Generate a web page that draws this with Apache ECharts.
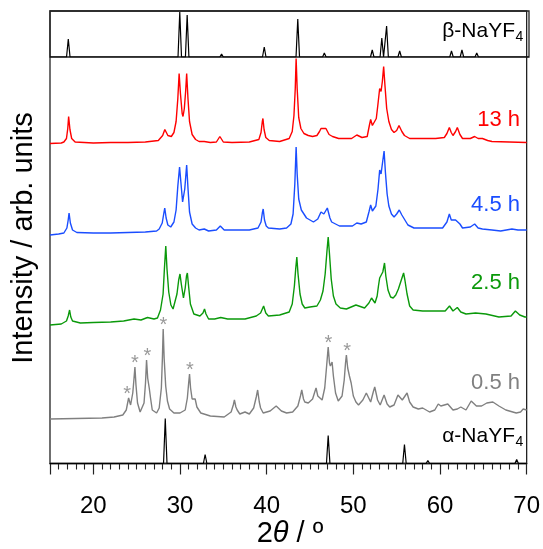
<!DOCTYPE html>
<html><head><meta charset="utf-8">
<script src="https://cdn.jsdelivr.net/npm/echarts@6/dist/echarts.min.js"></script>
<style>html,body{margin:0;padding:0;background:#fff}#c{width:543px;height:549px}</style>
</head><body><div id="c"></div>
<script>
// ---- data (2θ in degrees, intensity in arbitrary units above each trace's baseline) ----
const xMin = 15, xMax = 70;
const betaPeaks = [[17.1,18],[25.2,1],[29.9,45],[30.75,42],[34.7,3],[39.6,10],[43.45,38],[46.5,4],[52.0,7],[53.1,19],[53.65,31],[55.15,6],[59.9,1],[61.1,6],[62.3,7],[64.0,4],[65.1,2],[68.3,1]];
const alphaPeaks = [[28.3,45],[32.9,9],[47.1,28],[55.9,19],[58.6,3],[68.85,4]];

const red13h = [[15,0],[16.3,0.5],[16.6,1.5],[16.9,5],[17.05,15],[17.15,27],[17.3,14],[17.5,5],[17.9,1.5],[20,0.5],[22,1],[24,1],[26,1.5],[27.5,3],[28.0,8],[28.25,14],[28.6,8],[29.0,7],[29.3,11],[29.55,22],[29.75,45],[29.9,70],[30.05,50],[30.25,30],[30.35,27],[30.5,35],[30.65,52],[30.77,70],[30.92,45],[31.1,22],[31.4,9],[31.8,4],[32.2,2],[32.8,2],[33.5,1],[34.2,1.5],[34.6,7],[35.0,1.5],[36,1],[38,1.5],[39.1,4],[39.35,11],[39.5,22],[39.57,25],[39.7,14],[39.9,6],[40.3,3],[41.5,2],[42.6,5],[42.95,12],[43.15,28],[43.3,55],[43.4,85],[43.52,55],[43.7,26],[43.95,15],[44.3,10],[44.8,8],[45.3,7],[45.8,8],[46.1,12],[46.27,15],[46.5,13],[46.84,15],[47.2,9],[47.6,7],[48.3,5],[49.8,5],[50.4,8.5],[51.0,6],[51.6,7],[51.85,18],[52.0,24],[52.2,18],[52.4,16],[52.65,25],[52.85,40],[53.04,55],[53.2,52],[53.35,62],[53.5,77],[53.65,58],[53.85,35],[54.1,22],[54.4,14],[54.7,11],[55.0,13],[55.27,18],[55.6,12],[55.9,8],[56.5,5],[58,5],[59.5,5],[60.5,6],[60.8,10],[61.08,16],[61.3,11],[61.5,8],[61.8,12],[62.0,16],[62.3,9],[62.6,5],[63.5,5],[64.0,7],[64.4,5],[64.9,5],[65.5,3],[66,2],[68,1.5],[70,1]];

const blue4h = [[15,-1],[16,0],[16.6,1],[16.95,6],[17.1,14],[17.2,21],[17.35,11],[17.6,4],[18.1,1.5],[20,1],[22,1],[24,1.5],[26,2],[27.3,3],[27.6,5],[27.95,11],[28.12,20],[28.24,26],[28.4,16],[28.6,9],[28.93,7],[29.3,12],[29.55,24],[29.75,48],[29.95,67],[30.1,52],[30.3,32],[30.4,30],[30.55,45],[30.65,56],[30.77,69],[30.92,46],[31.1,22],[31.4,10],[31.8,6],[32.2,4],[32.8,5],[33.3,3],[34.2,4],[34.65,8],[35.1,4],[36,4],[38,4],[39.0,6],[39.35,12],[39.5,21],[39.6,25],[39.75,14],[39.95,8],[40.2,6],[41.5,5],[42.3,6],[42.8,10],[43.05,20],[43.25,50],[43.4,87],[43.52,60],[43.7,35],[44.0,24],[44.2,22],[44.6,16],[45.0,14],[45.4,12],[45.9,15],[46.27,22],[46.6,20],[47.0,26],[47.3,16],[47.5,12],[48.4,8],[49.9,8],[50.4,11],[50.9,10],[51.5,12],[51.8,22],[52.0,29],[52.2,23],[52.35,21],[52.6,28],[52.85,45],[53.04,64],[53.2,60],[53.35,70],[53.55,83],[53.7,62],[53.9,40],[54.1,28],[54.4,20],[54.7,17],[55.0,20],[55.3,24],[55.6,19],[55.8,17],[56.3,9],[57,6],[59,6],[60.3,6],[60.8,12],[61.08,20],[61.3,14],[61.5,13],[61.8,14],[62.0,16],[62.3,10],[62.6,6],[63.5,7],[64.0,10],[64.4,6],[64.9,5],[66,4],[67,3],[68.3,5],[69,4],[70,4]];

const green2h = [[15,-1],[16.3,0],[16.9,3],[17.1,8],[17.26,14],[17.4,7],[17.6,3],[18.5,1],[20,1.5],[22,2],[23.5,3],[24.7,5],[25.5,4],[26.25,6.5],[27.0,5],[27.4,6],[27.75,14],[28.05,30],[28.2,55],[28.36,78],[28.5,55],[28.7,32],[28.95,19],[29.2,15],[29.4,17],[29.65,30],[29.85,44],[30.0,50],[30.15,40],[30.4,26],[30.6,36],[30.75,48],[30.85,51],[31.0,37],[31.2,20],[31.6,10],[32.3,8],[32.65,11],[32.83,15],[33.0,10],[33.3,5],[34.0,5],[34.7,6.5],[35.5,5],[37.5,5],[38.8,8],[39.3,11],[39.65,18],[39.9,11],[40.2,8],[41.5,9],[42.6,12],[42.95,20],[43.2,38],[43.35,55],[43.48,67],[43.62,50],[43.85,30],[44.1,20],[44.4,16],[45,17],[45.8,18],[46.2,24],[46.5,33],[46.75,50],[46.95,72],[47.1,87],[47.25,70],[47.45,45],[47.7,28],[48.0,20],[48.5,16],[49.2,15],[50.3,19],[51.3,16],[51.8,21],[52.1,26],[52.5,21],[52.75,28],[52.9,38],[53.04,46],[53.2,44],[53.4,52],[53.6,61],[53.75,48],[54.0,34],[54.3,27],[54.6,26],[54.9,29],[55.2,35],[55.5,43],[55.8,51],[55.95,44],[56.2,30],[56.5,18],[56.9,14],[58,13],[59.5,13],[60.6,13],[61.1,18],[61.5,13],[62.0,16.5],[62.4,12],[63.0,10],[64.1,11],[65.3,10],[66.8,7],[68.2,8],[68.7,13],[69.2,9],[69.8,7],[70,7]];

const gray05h = [[15,-1],[18,-0.5],[21,0],[22.4,1],[23.4,3],[23.8,8],[24.07,20],[24.3,13],[24.55,25],[24.68,38],[24.8,51],[24.92,33],[25.1,15],[25.4,6],[25.6,6],[25.85,15],[26.02,35],[26.14,58],[26.27,40],[26.45,30],[26.6,20],[26.8,8],[27.3,5],[27.6,10],[27.85,30],[27.97,60],[28.06,89],[28.17,60],[28.35,32],[28.55,17],[28.8,9],[29.3,5],[30.0,5],[30.6,8],[30.85,20],[31.0,35],[31.1,44],[31.22,30],[31.4,19],[31.6,18],[31.75,19],[31.95,11],[32.4,5],[33.5,2],[35.1,1],[35.9,6],[36.15,13],[36.28,18],[36.45,11],[36.6,8],[36.9,4],[37.5,6],[38.0,4],[38.5,10],[38.8,21],[38.96,28],[39.15,16],[39.3,10],[39.6,5],[40.4,7],[41.1,12],[41.7,7],[42.3,5],[43.0,6],[43.6,12],[43.9,22],[44.05,28],[44.25,19],[44.4,16],[44.8,15],[45.3,19],[45.55,26],[45.7,30],[45.9,22],[46.0,21],[46.4,18],[46.7,30],[46.9,50],[47.1,71],[47.25,55],[47.35,52],[47.55,56],[47.7,42],[47.95,25],[48.26,17],[48.7,22],[48.95,38],[49.1,55],[49.2,63],[49.35,50],[49.55,42],[49.75,35],[50.0,22],[50.3,16],[50.6,13],[51.1,18],[51.5,25],[52.0,16],[52.3,26],[52.47,31],[52.8,18],[53.1,13],[53.55,23],[53.9,14],[54.2,11],[54.7,13],[55.15,23],[55.65,18],[56.2,25],[56.5,16],[56.9,11],[57.5,9],[58.0,10],[58.8,6],[59.4,8],[59.8,14],[60.1,12],[60.3,12],[60.9,14],[61.5,8],[62.0,9],[62.4,11],[63.0,8],[63.6,17],[64.2,12],[64.8,12],[65.4,15],[66.1,16],[66.8,12],[67.6,8],[68.8,5],[69.3,6],[69.6,9],[70,8]];

// α-phase reflections marked with * in the 0.5 h pattern
const asteriskPeaks = [[23.9,20],[24.8,51],[26.25,58],[28.08,89],[31.15,44],[47.12,71],[49.3,63]];

// vertical stacking offsets (arb. units)
const offsets = {red:320, blue:229.5, green:139.5, gray:45.5, alpha:0};
const traceLabels = ['13 h','4.5 h','2.5 h','0.5 h'];

// ---- build ----
const FONT = '"Liberation Sans", Arial, sans-serif';
function sticks(peaks){
  const pts=[[xMin,0]];
  peaks.forEach(([p,h])=>{pts.push([p-0.2,0],[p,h],[p+0.2,0]);});
  pts.push([xMax,0]); return pts;
}
const shift=(arr,o)=>arr.map(([x,y])=>[x,y+o]);
const COLORS={red:'#ff0000',blue:'#1a4dff',green:'#0a990a',gray:'#808080',black:'#000000'};

function line(name,data,color,xi,yi,w){
  return {name,type:'line',xAxisIndex:xi,yAxisIndex:yi,data,showSymbol:false,symbol:'none',
    lineStyle:{color,width:w||1.4},silent:true,animation:false,clip:true};
}
// phase label: main text right-aligned, subscript "4" placed after it
function phaseLabel(main,sub,xRight,y){
  return [
    {type:'text',x:xRight-8,y,style:{text:main,align:'right',verticalAlign:'middle',fill:'#000',font:'21px '+FONT}},
    {type:'text',x:xRight-7.5,y:y+6,style:{text:sub,align:'left',verticalAlign:'middle',fill:'#000',font:'14px '+FONT}}
  ];
}

const chart = echarts.init(document.getElementById('c'),null,{renderer:'canvas'});
chart.setOption({
  animation:false,
  backgroundColor:'#fff',
  grid:[
    {left:50,right:14,top:11,bottom:85.5,show:true,borderColor:'#222',borderWidth:1.3,backgroundColor:'transparent'},
    {left:50,right:14,top:11,height:46,show:true,borderColor:'#222',borderWidth:1.3,backgroundColor:'transparent'}
  ],
  xAxis:[
    {gridIndex:0,type:'value',min:xMin,max:xMax,splitNumber:5,
     axisLine:{show:true,lineStyle:{color:'#222',width:1.3}},
     axisTick:{show:true,inside:false,length:11,lineStyle:{color:'#222',width:1.2}},
     minorTick:{show:true,splitNumber:10,length:6,lineStyle:{color:'#222',width:1.1}},
     splitLine:{show:false},
     axisLabel:{fontSize:24,fontFamily:FONT,color:'#000',margin:31,
       formatter:v=>(v%10===0?String(v):'')}},
    {gridIndex:1,type:'value',min:xMin,max:xMax,show:false}
  ],
  yAxis:[
    {gridIndex:0,type:'value',min:0,max:452.5,show:false},
    {gridIndex:1,type:'value',min:0,max:46,show:false}
  ],
  series:[
    line('β-NaYF4',sticks(betaPeaks),COLORS.black,1,1,1.2),
    line('13 h',shift(red13h,offsets.red),COLORS.red,0,0),
    line('4.5 h',shift(blue4h,offsets.blue),COLORS.blue,0,0),
    line('2.5 h',shift(green2h,offsets.green),COLORS.green,0,0),
    line('0.5 h',shift(gray05h,offsets.gray),COLORS.gray,0,0),
    line('α-NaYF4',shift(sticks(alphaPeaks),offsets.alpha),COLORS.black,0,0,1.2),
    {type:'scatter',xAxisIndex:0,yAxisIndex:0,silent:true,symbol:'circle',symbolSize:1,
     itemStyle:{color:'rgba(0,0,0,0)'},
     data:shift(asteriskPeaks,offsets.gray),
     label:{show:true,formatter:'*',position:'inside',offset:[0,-4],fontSize:20,fontFamily:FONT,color:COLORS.gray}}
  ],
  graphic:[
    ...phaseLabel('β-NaYF','4',523,31),
    {type:'text',x:520,y:120,style:{text:traceLabels[0],align:'right',verticalAlign:'middle',fill:COLORS.red,font:'22px '+FONT}},
    {type:'text',x:520,y:205,style:{text:traceLabels[1],align:'right',verticalAlign:'middle',fill:COLORS.blue,font:'22px '+FONT}},
    {type:'text',x:520,y:283,style:{text:traceLabels[2],align:'right',verticalAlign:'middle',fill:COLORS.green,font:'22px '+FONT}},
    {type:'text',x:520,y:383,style:{text:traceLabels[3],align:'right',verticalAlign:'middle',fill:COLORS.gray,font:'22px '+FONT}},
    ...phaseLabel('α-NaYF','4',523,436),
    {type:'text',x:24,y:238,rotation:Math.PI/2,style:{text:'Intensity / arb. units',align:'center',verticalAlign:'middle',fill:'#000',font:'29px '+FONT}},
    {type:'text',x:290,y:534,style:{text:'{a|2}{b|θ}{a| / º}',align:'center',verticalAlign:'middle',fill:'#000',
      rich:{a:{font:'29px '+FONT,fontSize:29,fill:'#000'},b:{font:'italic 29px "Liberation Serif", serif',fontSize:29,fontStyle:'italic',fill:'#000'}}}}
  ]
});
</script></body></html>
